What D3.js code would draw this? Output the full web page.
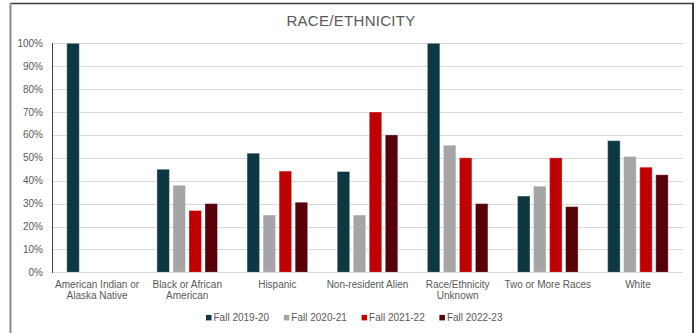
<!DOCTYPE html>
<html>
<head>
<meta charset="utf-8">
<script src="https://cdn.jsdelivr.net/npm/d3@7"></script>
<style>
html,body{margin:0;padding:0;background:#fff;}
svg{display:block;font-family:"Liberation Sans",Arial,sans-serif;}
</style>
</head>
<body>
<svg id="chart" width="696" height="333"></svg>
<script>
const title = "RACE/ETHNICITY";
const categories = [
  ["American Indian or", "Alaska Native"],
  ["Black or African", "American"],
  ["Hispanic"],
  ["Non-resident Alien"],
  ["Race/Ethnicity", "Unknown"],
  ["Two or More Races"],
  ["White"]
];
const seriesNames = ["Fall 2019-20", "Fall 2020-21", "Fall 2021-22", "Fall 2022-23"];
const seriesColors = ["#0e3841", "#a5a5a5", "#c00000", "#580008"];
const fall2019 = [100, 45, 52, 44, 100, 33.3, 57.5];
const fall2020 = [null, 38, 25, 25, 55.5, 37.6, 50.6];
const fall2021 = [null, 27, 44.2, 70, 50, 50, 45.9];
const fall2022 = [null, 30, 30.6, 60, 30, 28.7, 42.6];
const yTicks = [0, 10, 20, 30, 40, 50, 60, 70, 80, 90, 100];

const series = [fall2019, fall2020, fall2021, fall2022];
const svg = d3.select("#chart");
const catKeys = categories.map(c => c.join(" "));

// frame
svg.append("rect").attr("x", 0).attr("y", 0).attr("width", 696).attr("height", 333).attr("fill", "#fff");
svg.append("line").attr("x1", 10).attr("x2", 694).attr("y1", 3.5).attr("y2", 3.5).attr("stroke", "#3a3a3a").attr("stroke-width", 1.5);
svg.append("line").attr("x1", 10.5).attr("x2", 10.5).attr("y1", 3).attr("y2", 333).attr("stroke", "#8a8a8a").attr("stroke-width", 2);
svg.append("line").attr("x1", 693).attr("x2", 693).attr("y1", 3).attr("y2", 333).attr("stroke", "#3a3a3a").attr("stroke-width", 2);

const x0 = d3.scaleBand().domain(catKeys).range([52, 683]).paddingInner(0.328).paddingOuter(0.164);
const x1 = d3.scaleBand().domain(seriesNames).range([0, x0.bandwidth()]).paddingInner(0.22).paddingOuter(0);
const y = d3.scaleLinear().domain([0, 100]).range([272.3, 43.3]);

// gridlines
svg.append("g").selectAll("line").data(yTicks.filter(t => t > 0)).join("line")
  .attr("x1", 52).attr("x2", 683)
  .attr("y1", d => Math.round(y(d)) + 0.5).attr("y2", d => Math.round(y(d)) + 0.5)
  .attr("stroke", "#d9d9d9").attr("stroke-width", 1);

// y tick labels
svg.append("g").selectAll("text").data(yTicks).join("text")
  .attr("x", 43).attr("y", d => y(d)).attr("dy", "0.35em")
  .attr("text-anchor", "end").attr("font-size", 10).attr("fill", "#595959")
  .text(d => d + "%");

// bars
const groups = svg.append("g").selectAll("g").data(catKeys).join("g")
  .attr("transform", d => `translate(${x0(d)},0)`);
groups.selectAll("rect").data((d, i) => series.map((s, j) => ({ name: seriesNames[j], v: s[i], c: seriesColors[j] })).filter(o => o.v != null))
  .join("rect")
  .attr("x", d => x1(d.name)).attr("width", x1.bandwidth())
  .attr("y", d => y(d.v)).attr("height", d => y(0) - y(d.v))
  .attr("fill", d => d.c)
  .attr("stroke", "#ffffff").attr("stroke-opacity", 0.35).attr("stroke-width", 1);

// baseline
svg.append("line").attr("x1", 52).attr("x2", 683).attr("y1", 272.5).attr("y2", 272.5).attr("stroke", "#d9d9d9").attr("stroke-width", 1);
// y axis line
svg.append("line").attr("x1", 52.5).attr("x2", 52.5).attr("y1", 43).attr("y2", 273).attr("stroke", "#404040").attr("stroke-width", 1);

// category labels
svg.append("g").selectAll("text").data(categories).join("text")
  .attr("x", (d, i) => x0(catKeys[i]) + x0.bandwidth() / 2)
  .attr("y", 287.5)
  .attr("text-anchor", "middle").attr("font-size", 10).attr("fill", "#595959")
  .selectAll("tspan").data(d => d).join("tspan")
  .attr("x", function () { return d3.select(this.parentNode).attr("x"); })
  .attr("dy", (d, i) => i === 0 ? 0 : 11.7)
  .text(d => d);

// title
svg.append("text").attr("x", 351).attr("y", 26).attr("text-anchor", "middle")
  .attr("font-size", 15).attr("letter-spacing", 0.3).attr("fill", "#595959").text(title);

// legend
const legend = svg.append("g").selectAll("g").data(seriesNames).join("g")
  .attr("transform", (d, i) => `translate(${206 + i * 77.8},317.7)`);
legend.append("rect").attr("x", 0).attr("y", -2.8).attr("width", 5.5).attr("height", 5.5)
  .attr("fill", (d, i) => seriesColors[i]);
legend.append("text").attr("x", 7.5).attr("y", 0).attr("dy", "0.35em")
  .attr("font-size", 10).attr("fill", "#595959").text(d => d);
</script>
</body>
</html>
